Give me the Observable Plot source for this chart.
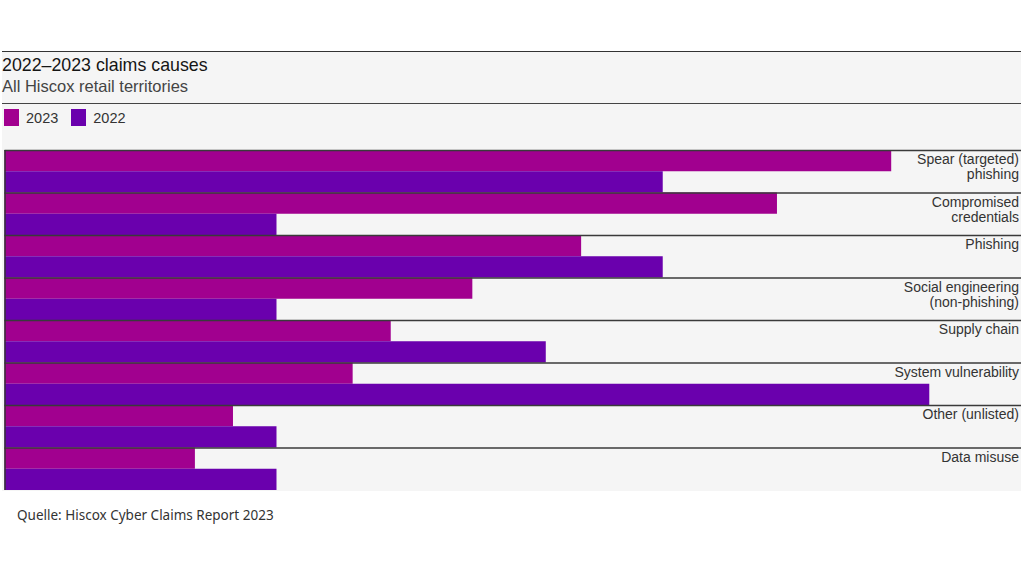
<!DOCTYPE html>
<html>
<head>
<meta charset="utf-8">
<script src="https://cdn.jsdelivr.net/npm/d3@7"></script>
<script src="https://cdn.jsdelivr.net/npm/@observablehq/plot@0.6"></script>
<style>
  html, body { margin: 0; padding: 0; background: #fff; }
  #page { position: relative; width: 1021px; height: 570px; overflow: hidden; font-family: "Liberation Sans", Arial, sans-serif; }
  #bg { position: absolute; left: 2px; top: 51px; width: 1019px; height: 440px; background: #f5f5f5; border-top: 1.3px solid #333; box-sizing: border-box; }
  #title { position: absolute; left: 2px; top: 57px; font-size: 17.8px; line-height: 1; color: #151515; white-space: nowrap; }
  #subtitle { position: absolute; left: 2px; top: 77.5px; font-size: 16.5px; line-height: 1; color: #444; white-space: nowrap; }
  #hr { position: absolute; left: 2px; top: 102.5px; width: 1019px; height: 0; border-top: 1.3px solid #444; }
  #legend { position: absolute; left: 4px; top: 109px; display: flex; align-items: center; font-size: 14.5px; color: #333; }
  #legend .sw { display: inline-block; width: 15px; height: 17px; margin-right: 7px; }
  #legend .item { display: flex; align-items: center; margin-right: 13px; }
  #chart { position: absolute; left: 0; top: 140px; }
  #caption { position: absolute; left: 17px; top: 507px; font-family: "Noto Sans", "Open Sans", sans-serif; font-size: 13.5px; line-height: 1.2; color: #333; white-space: nowrap; }
</style>
</head>
<body>
<div id="page">
  <div id="bg"></div>
  <div id="title">2022–2023 claims causes</div>
  <div id="subtitle">All Hiscox retail territories</div>
  <div id="hr"></div>
  <div id="legend"></div>
  <div id="chart"></div>
  <div id="caption">Quelle: Hiscox Cyber Claims Report 2023</div>
</div>
<script>
// Data (percent of claims)
const causes = [
  "Spear (targeted)\nphishing",
  "Compromised\ncredentials",
  "Phishing",
  "Social engineering\n(non-phishing)",
  "Supply chain",
  "System vulnerability",
  "Other (unlisted)",
  "Data misuse"
];
const years = ["2023", "2022"];
const values2023 = [16.3, 14.2, 10.6, 8.6, 7.1, 6.4, 4.2, 3.5];
const values2022 = [12.1, 5, 12.1, 5, 9.95, 17, 5, 5];
const colors = ["#a1008f", "#6a00ad"];

// Legend
const legend = document.getElementById("legend");
years.forEach((y, k) => {
  const item = document.createElement("div");
  item.className = "item";
  item.innerHTML = `<span class="sw" style="background:${colors[k]}"></span><span>${y}</span>`;
  legend.appendChild(item);
});

// Table
const rows = causes.flatMap((c, i) => [
  {cause: c, year: years[0], value: values2023[i], i, y1: i, y2: i + 0.5},
  {cause: c, year: years[1], value: values2022[i], i, y1: i + 0.5, y2: i + 1}
]);
const bands = causes.map((c, i) => ({cause: c, i}));

const chart = Plot.plot({
  width: 1021,
  height: 352,
  marginTop: 10,
  marginBottom: 2,
  marginLeft: 4.5,
  marginRight: 0,
  style: {background: "transparent", fontFamily: "'Liberation Sans', Arial, sans-serif"},
  x: {domain: [0, 18.686], axis: null},
  y: {domain: [0, causes.length], reverse: true, axis: null},
  color: {domain: years, range: colors},
  marks: [
    Plot.rectX(rows, {x1: 0, x2: "value", y1: "y1", y2: "y2", fill: "year"}),
    Plot.ruleY(bands, {y: "i", stroke: "#3a3a3a", strokeWidth: 1.3}),
    Plot.ruleX([0], {stroke: "#333", strokeWidth: 1.5}),
    Plot.text(bands, {
      x: 18.686, y: "i", text: "cause",
      textAnchor: "end", lineAnchor: "top", lineHeight: 1.05,
      dx: -2.5, dy: 3.4, fontSize: 14, fill: "#333"
    })
  ]
});
document.getElementById("chart").appendChild(chart);
</script>
</body>
</html>
